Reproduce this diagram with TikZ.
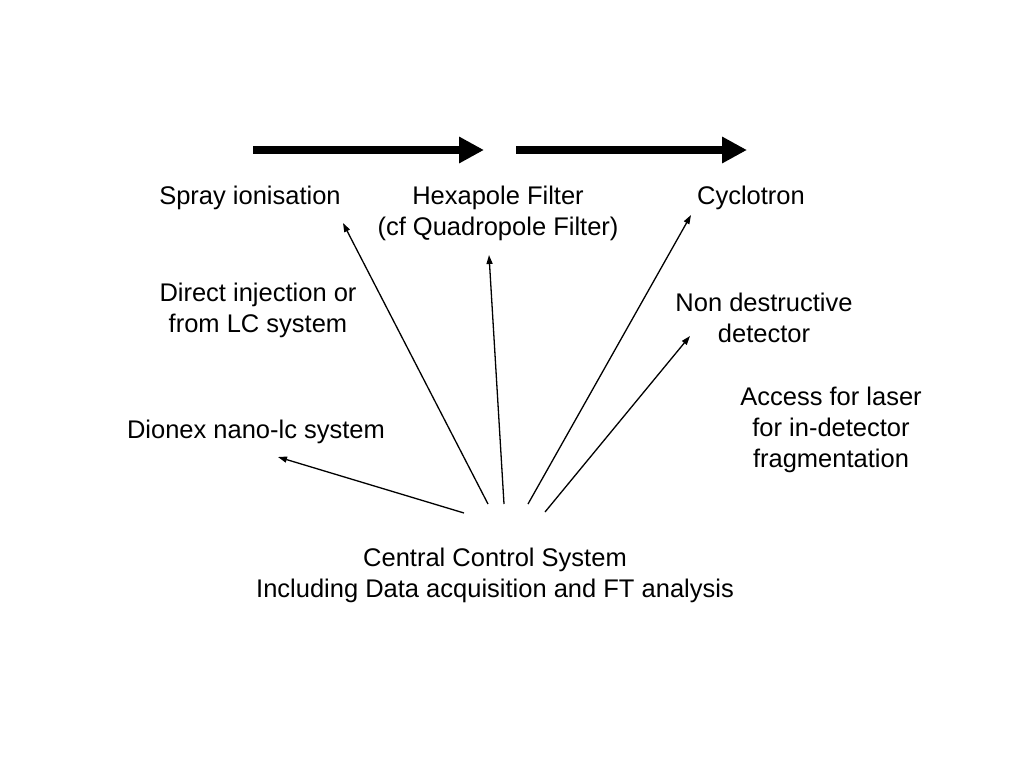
\documentclass[tikz,border=0pt]{standalone}
\usepackage{fontspec}
\setmainfont{Liberation Sans}
\usetikzlibrary{arrows.meta}

\begin{document}
\begin{tikzpicture}[x=1pt,y=-1pt,
    lbl/.style={align=center,inner sep=0pt,font=\fontsize{25.5}{31}\selectfont},
    flow/.style={line width=8pt,-{Triangle[length=25pt,width=25pt]}},
    link/.style={line width=1.3pt,-{Triangle[length=9pt,width=6pt]}}]
      \useasboundingbox (0,0) rectangle (1024,768) ;
      % stages
      \coordinate (F1a) at (253,150) ; \coordinate (F1b) at (484,150) ;
      \coordinate (F2a) at (516,150) ; \coordinate (F2b) at (747,150) ;
      \draw[flow] (F1a)--(F1b) ;
      \draw[flow] (F2a)--(F2b) ;
      \node[lbl] (spray) at (250,198) {Spray ionisation} ;
      \node[lbl] (hexa) at (498,213) {Hexapole Filter\\(cf Quadropole Filter)} ;
      \node[lbl] (cyclo) at (751,198) {Cyclotron} ;
      \node[lbl] (inject) at (258,310) {Direct injection or\\from LC system} ;
      \node[lbl] (detect) at (764,318) {Non destructive\\detector} ;
      \node[lbl] (laser) at (831,430) {Access for laser\\for in-detector\\fragmentation} ;
      \node[lbl] (dionex) at (256,432) {Dionex nano-lc system} ;
      \node[lbl] (ccs) at (495,575) {Central Control System\\Including Data acquisition and FT analysis} ;
      % links from the control system
      \coordinate (S1) at (488,504) ; \coordinate (T1) at (343,223) ;
      \coordinate (S2) at (504,504) ; \coordinate (T2) at (489,255) ;
      \coordinate (S3) at (528,504) ; \coordinate (T3) at (691,215) ;
      \coordinate (S4) at (545,512) ; \coordinate (T4) at (690,336) ;
      \coordinate (S5) at (464,513) ; \coordinate (T5) at (278,457) ;
      \draw[link] (S1)--(T1) ;
      \draw[link] (S2)--(T2) ;
      \draw[link] (S3)--(T3) ;
      \draw[link] (S4)--(T4) ;
      \draw[link] (S5)--(T5) ;
\end{tikzpicture}
\end{document}
